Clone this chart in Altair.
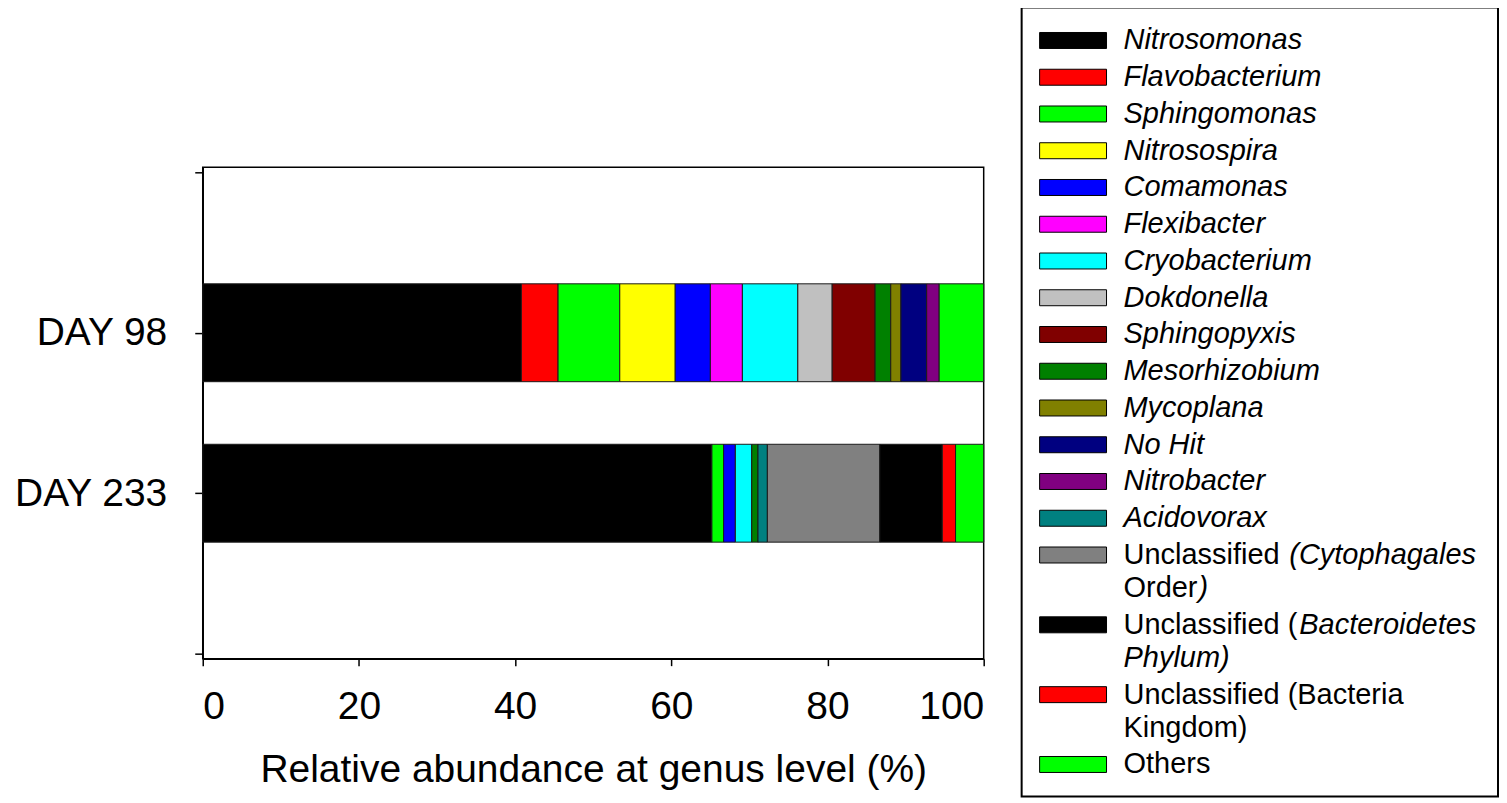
import altair as alt
import pandas as pd

# ---------------- data ----------------
days = ["DAY 98", "DAY 233"]
taxa = [
    "Nitrosomonas", "Flavobacterium", "Sphingomonas", "Nitrosospira", "Comamonas",
    "Flexibacter", "Cryobacterium", "Dokdonella", "Sphingopyxis", "Mesorhizobium",
    "Mycoplana", "No Hit", "Nitrobacter", "Acidovorax",
    "Unclassified (Cytophagales Order)", "Unclassified (Bacteroidetes Phylum)",
    "Unclassified (Bacteria Kingdom)", "Others",
]
colors = [
    "#000000", "#ff0000", "#00ff00", "#ffff00", "#0000ff",
    "#ff00ff", "#00ffff", "#c0c0c0", "#800000", "#008000",
    "#808000", "#000080", "#800080", "#008080",
    "#808080", "#000000", "#ff0000", "#00ff00",
]
day98 = [40.8, 4.7, 7.9, 7.1, 4.5, 4.1, 7.1, 4.4, 5.5, 2.0, 1.3, 3.3, 1.6, 0, 0, 0, 0, 5.7]
day233 = [65.2, 0, 1.5, 0, 1.5, 0, 2.1, 0, 0, 0.8, 0, 0, 0, 1.2, 14.4, 8.0, 1.7, 3.6]
x_ticks = [0, 20, 40, 60, 80, 100]

# legend label lines: list of lines, each line a list of (text, style)
legend_lines = [
    [[(" Nitrosomonas", "italic")]],
    [[(" Flavobacterium", "italic")]],
    [[(" Sphingomonas", "italic")]],
    [[(" Nitrosospira", "italic")]],
    [[(" Comamonas", "italic")]],
    [[(" Flexibacter", "italic")]],
    [[(" Cryobacterium", "italic")]],
    [[(" Dokdonella", "italic")]],
    [[(" Sphingopyxis", "italic")]],
    [[(" Mesorhizobium", "italic")]],
    [[(" Mycoplana", "italic")]],
    [[(" No Hit", "italic")]],
    [[(" Nitrobacter", "italic")]],
    [[("Acidovorax", "italic")]],
    [[("Unclassified ", "normal"), ("(Cytophagales", "italic")], [("Order", "normal"), (")", "italic")]],
    [[("Unclassified (", "normal"), ("Bacteroidetes", "italic")], [("Phylum)", "italic")]],
    [[("Unclassified (Bacteria", "normal")], [("Kingdom)", "normal")]],
    [[("Others", "normal")]],
]

# ---------------- build tables ----------------
rows = []
for d_i, (day, vals) in enumerate(zip(days, [day98, day233])):
    cum = 0.0
    for t, v in zip(taxa, vals):
        if v > 0:
            rows.append({"day": day, "pos": d_i + 1, "taxon": t, "start": cum, "end": cum + v})
            cum += v
df = pd.DataFrame(rows)

# legend layout (pixel offsets inside legend box)
TEXT_X = 102
follow_x = {"(Cytophagales": 268, "Bacteroidetes": 278, ")": 177}
sw_rows, txt_rows = [], []
slot = 0.0
for taxon, lines in zip(taxa, legend_lines):
    sw_rows.append({"taxon": taxon, "slot": slot})
    for li, line in enumerate(lines):
        ly = slot + 0.9 * li
        for text, style in line:
            px = follow_x.get(text, TEXT_X)
            txt_rows.append({"text": text, "style": style, "slot": ly, "px": px})
    slot += 1.0 if len(lines) == 1 else 1.9
sw_df = pd.DataFrame(sw_rows)
txt_df = pd.DataFrame(txt_rows)

color_scale = alt.Scale(domain=taxa, range=colors)
FONT = "Liberation Sans"

# ---------------- main chart ----------------
ylabels = [""] + days + [""]
label_expr = "[" + ",".join("'" + s + "'" for s in ylabels) + "][datum.value]"

main = alt.Chart(df).mark_bar(size=98, stroke="#1a1a1a", strokeWidth=1).encode(
    x=alt.X(
        "start:Q",
        scale=alt.Scale(domain=[0, 100], nice=False),
        axis=alt.Axis(
            values=x_ticks, title="Relative abundance at genus level (%)",
            labelFontSize=39, titleFontSize=39, titleFontWeight="normal",
            tickSize=7, labelPadding=22, titlePadding=24, grid=False,
            domainColor="black", tickColor="black", domainWidth=1.5, tickWidth=1.5,
            labelColor="black", titleColor="black", labelFont=FONT, titleFont=FONT,
        ),
    ),
    x2="end:Q",
    y=alt.Y(
        "pos:Q",
        scale=alt.Scale(domain=[0, 3], reverse=True, nice=False, zero=False),
        axis=alt.Axis(
            values=[0, 1, 2, 3], labelExpr=label_expr, title=None,
            labelFontSize=39, tickSize=8, labelPadding=28, grid=False,
            domainColor="black", tickColor="black", domainWidth=1.5, tickWidth=1.5,
            labelColor="black", labelFont=FONT,
        ),
    ),
    color=alt.Color("taxon:N", scale=color_scale, legend=None),
).properties(
    width=782, height=492,
    view=alt.ViewBackground(stroke="black", strokeWidth=1.5),
)

# invisible spacer above the plot so the plot frame starts lower than the legend box
spacer = alt.Chart(pd.DataFrame({"v": [0]})).mark_point(opacity=0, size=0).encode(
    x=alt.value(10), y=alt.value(10),
).properties(width=782, height=158, view=alt.ViewBackground(stroke="transparent"))

left = alt.vconcat(spacer, main, spacing=0)

# ---------------- custom legend ----------------
LW, LH = 477, 790
unit = 36.8
d0 = -33.0 / unit
d1 = d0 + LH / unit
xs = alt.Scale(domain=[0, LW], nice=False, zero=False)
ys = alt.Scale(domain=[d0, d1], reverse=True, nice=False, zero=False)

swatch = alt.Chart(sw_df).mark_point(
    shape="M-1,-0.2388L1,-0.2388L1,0.2388L-1,0.2388Z", size=67 * 67,
    filled=True, opacity=1, stroke="black", strokeWidth=1,
).encode(
    x=alt.value(51.5),
    y=alt.Y("slot:Q", scale=ys, axis=None),
    color=alt.Color("taxon:N", scale=color_scale, legend=None),
)

def text_layer(style):
    return alt.Chart(txt_df).transform_filter(alt.datum.style == style).mark_text(
        align="left", baseline="middle", fontSize=29, font=FONT, fontStyle=style, color="black",
    ).encode(
        x=alt.X("px:Q", scale=xs, axis=None),
        y=alt.Y("slot:Q", scale=ys, axis=None),
        text="text:N",
    )

legend = alt.layer(swatch, text_layer("italic"), text_layer("normal")).properties(
    width=LW, height=LH,
    view=alt.ViewBackground(stroke="black", strokeWidth=2),
)

chart = alt.hconcat(left, legend, spacing=35).properties(
    padding={"left": 5, "top": -2, "right": 0, "bottom": 0},
).configure(font=FONT)

chart.save("out.html", embed_options={"renderer": "svg", "actions": False})
